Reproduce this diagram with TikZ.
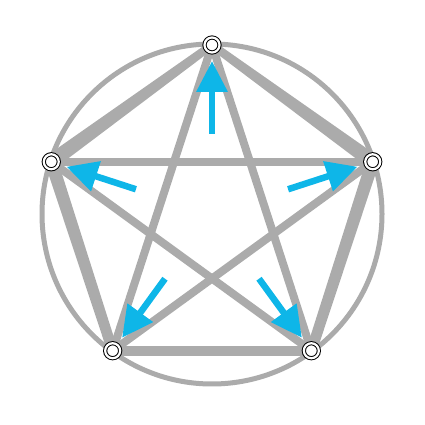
\documentclass[tikz,border=0pt]{standalone}
\usetikzlibrary{calc,arrows.meta}
\definecolor{rimgray}{RGB}{171,171,171}
\definecolor{flowcyan}{RGB}{14,182,232}
\tikzset{
  vertex/.style={circle,draw=black,double=white,double distance=2.2pt,line width=1pt,
    fill=white,minimum size=15pt,inner sep=0pt},
  starline/.style={rimgray,line width=8pt},
  flow/.style={flowcyan,line width=6.5pt,-{Triangle[length=31pt,width=30pt]}},
}
\begin{document}
\begin{tikzpicture}[x=1pt,y=1pt]
\useasboundingbox (0,0) rectangle (425,425);
\coordinate (o) at (212,211);
\draw[rimgray,line width=5pt] (o) circle (170);
\foreach \i in {0,...,4}
{
  \path (o) ++(90+72*\i:169) coordinate (p\i);
  \coordinate (a\i) at ($(o)!80pt!(p\i)$);
  \coordinate (b\i) at ($(o)!153pt!(p\i)$);
}
% star
\foreach \i/\j in {0/2,2/4,4/1,1/3,3/0}
  \draw[starline] (p\i) -- (p\j);
% rim, thicker at the side corners
\foreach \i/\j/\wa/\wb in {0/1/4/7.5,1/2/6.5/5.25,2/3/5/5,3/4/5.25/6.5,4/0/7.5/4}
  \fill[rimgray] ($(p\i)!\wa pt!90:(p\j)$) -- ($(p\j)!\wb pt!-90:(p\i)$)
    -- ($(p\j)!\wb pt!90:(p\i)$) -- ($(p\i)!\wa pt!-90:(p\j)$) -- cycle;
% arrows
\foreach \i in {0,...,4}
  \draw[flow] (a\i) -- (b\i);
\foreach \i in {0,...,4}
  \node[vertex] (v\i) at (p\i) {};
\end{tikzpicture}
\end{document}
